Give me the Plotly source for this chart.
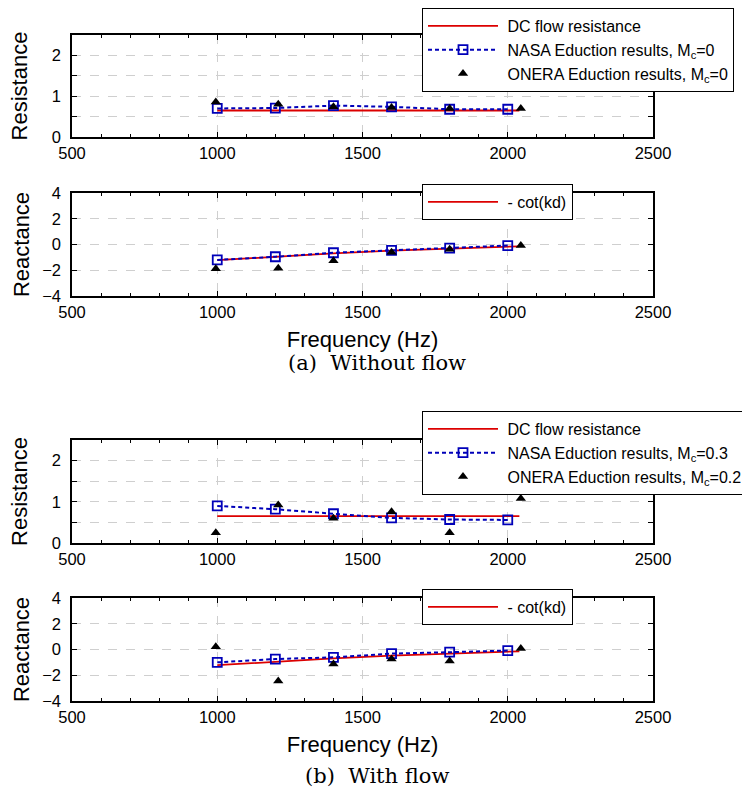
import plotly.graph_objects as go

# ---------------- data ----------------
freq_nasa = [1000, 1200, 1400, 1600, 1800, 2000]
freq_onera = [995, 1210, 1400, 1600, 1800, 2045]
freq_model = [1000, 1200, 1400, 1600, 1800, 2040]

dc_resistance = [0.65, 0.65, 0.65, 0.65, 0.65, 0.65]
minus_cot_kd = [-1.22, -0.93, -0.69, -0.48, -0.31, -0.14]

# (a) without flow
nasa_res_a = [0.70, 0.71, 0.77, 0.74, 0.68, 0.68]
onera_res_a = [0.86, 0.80, 0.74, 0.72, 0.70, 0.70]
nasa_rea_a = [-1.20, -0.95, -0.64, -0.46, -0.28, -0.08]
onera_rea_a = [-1.88, -1.85, -1.26, -0.61, -0.37, -0.08]

# (b) with flow
nasa_res_b = [0.90, 0.82, 0.71, 0.61, 0.57, 0.56]
onera_res_b = [0.25, 0.92, 0.60, 0.76, 0.25, 1.08]
nasa_rea_b = [-1.00, -0.74, -0.61, -0.32, -0.21, -0.08]
onera_rea_b = [0.22, -2.45, -1.12, -0.74, -0.90, 0.08]

x_ticks = [500, 1000, 1500, 2000, 2500]
res_ticks = [0, 1, 2]
rea_ticks = [-4, -2, 0, 2, 4]

# ---------------- style ----------------
W, H = 742, 804
RED = "rgb(220,0,0)"
BLUE = "rgb(0,0,185)"
SANS = "Liberation Sans, Arial, Helvetica, sans-serif"
SERIF = "DejaVu Serif, serif"
TICKF = dict(family=SANS, size=16.5, color="black")
TITLEF = dict(family=SANS, size=22, color="black")
LEGF = dict(family=SANS, size=16, color="black")
GAP = "&nbsp;"

fig = go.Figure()


def add_panel(idx, nasa_y, onera_y, model_y, model_name, nasa_name, onera_name,
              legend_id, full_legend):
    xa = "x" if idx == 1 else f"x{idx}"
    ya = "y" if idx == 1 else f"y{idx}"
    fig.add_trace(go.Scatter(
        x=freq_model, y=model_y, mode="lines", name=GAP + model_name,
        line=dict(color=RED, width=1.8), xaxis=xa, yaxis=ya,
        legend=legend_id, showlegend=True))
    fig.add_trace(go.Scatter(
        x=freq_nasa, y=nasa_y, mode="lines+markers", name=GAP + nasa_name,
        line=dict(color=BLUE, width=2, dash="4px,3px"),
        marker=dict(symbol="square-open", size=9, color=BLUE, line=dict(width=1.8)),
        xaxis=xa, yaxis=ya, legend=legend_id, showlegend=full_legend))
    fig.add_trace(go.Scatter(
        x=freq_onera, y=onera_y, mode="markers", name=GAP + onera_name,
        marker=dict(symbol="triangle-up", size=9, color="black"),
        xaxis=xa, yaxis=ya, legend=legend_id, showlegend=full_legend))


add_panel(1, nasa_res_a, onera_res_a, dc_resistance, "DC flow resistance",
          "NASA Eduction results, M<sub>c</sub>=0",
          "ONERA Eduction results, M<sub>c</sub>=0", "legend", True)
add_panel(2, nasa_rea_a, onera_rea_a, minus_cot_kd, "- cot(kd)",
          "NASA", "ONERA", "legend2", False)
add_panel(3, nasa_res_b, onera_res_b, dc_resistance, "DC flow resistance",
          "NASA Eduction results, M<sub>c</sub>=0.3",
          "ONERA Eduction results, M<sub>c</sub>=0.2", "legend3", True)
add_panel(4, nasa_rea_b, onera_rea_b, minus_cot_kd, "- cot(kd)",
          "NASA", "ONERA", "legend4", False)

# pixel boxes of each panel (top, bottom)
boxes = {1: (35, 137), 2: (193, 296), 3: (440, 543), 4: (598, 701)}
x_dom = [72 / W, 653 / W]

layout = dict(
    width=W, height=H,
    margin=dict(l=0, r=0, t=0, b=0, autoexpand=False),
    paper_bgcolor="white", plot_bgcolor="white",
    font=dict(family=SANS, color="black"),
)

for i, (top, bot) in boxes.items():
    xk = "xaxis" if i == 1 else f"xaxis{i}"
    yk = "yaxis" if i == 1 else f"yaxis{i}"
    ya = "y" if i == 1 else f"y{i}"
    xa = "x" if i == 1 else f"x{i}"
    is_res = i in (1, 3)
    xdict = dict(
        domain=x_dom, anchor=ya, range=[500, 2500],
        tickvals=x_ticks, ticks="inside", ticklen=5, tickwidth=1,
        tickcolor="black",
        minor=dict(dtick=100, tick0=500, ticks="inside", ticklen=3,
                   tickcolor="black", showgrid=False),
        showline=True, linecolor="black", linewidth=1.5, mirror="ticks",
        showgrid=True, gridcolor="#cfcfcf", griddash="dash", gridwidth=1,
        zeroline=False, tickfont=TICKF,
    )
    if not is_res:
        xdict["title"] = dict(text="Frequency (Hz)", font=TITLEF, standoff=12)
    layout[xk] = xdict
    ydict = dict(
        domain=[1 - bot / H, 1 - top / H], anchor=xa,
        ticks="inside", ticklen=5, tickcolor="black",
        showline=True, linecolor="black", linewidth=1.5, mirror="ticks",
        showgrid=True, gridcolor="#cfcfcf", griddash="dash", gridwidth=1,
        zeroline=False, tickfont=TICKF, ticklabelstandoff=6,
        title=dict(text="Resistance" if is_res else "Reactance",
                   font=TITLEF, standoff=18 if is_res else 6),
    )
    if is_res:
        ydict.update(range=[0, 2.5], tickvals=res_ticks,
                     minor=dict(dtick=0.5, tick0=0, ticks="inside", ticklen=5,
                                tickcolor="black", showgrid=True,
                                gridcolor="#cfcfcf", griddash="dash"))
    else:
        ydict.update(range=[-4, 4], tickvals=rea_ticks)
    layout[yk] = ydict

leg_common = dict(xanchor="left", yanchor="top", bgcolor="white",
                  bordercolor="black", borderwidth=1, font=LEGF,
                  itemwidth=70, tracegroupgap=0)
layout["legend"] = dict(x=422 / W, y=1 - 8 / H, **leg_common)
layout["legend2"] = dict(x=422 / W, y=1 - 184 / H, **leg_common)
layout["legend3"] = dict(x=422 / W, y=1 - 411 / H, **leg_common)
layout["legend4"] = dict(x=422 / W, y=1 - 589 / H, **leg_common)

layout["annotations"] = [
    dict(text="(a)  Without flow", x=377 / W, y=1 - 363 / H, xref="paper",
         yref="paper", showarrow=False, xanchor="center", yanchor="middle",
         font=dict(family=SERIF, size=21, color="black")),
    dict(text="(b)  With flow", x=377 / W, y=1 - 776 / H, xref="paper",
         yref="paper", showarrow=False, xanchor="center", yanchor="middle",
         font=dict(family=SERIF, size=21, color="black")),
]

fig.update_layout(**layout)
fig.write_html(
    "out.html",
    config={"displayModeBar": False},
    post_script="document.body.style.margin='0';document.body.style.padding='0';",
)
